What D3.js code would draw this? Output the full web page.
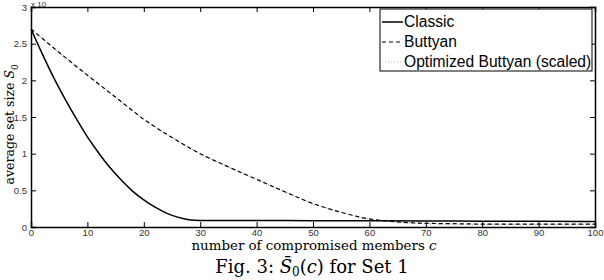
<!DOCTYPE html>
<html>
<head>
<meta charset="utf-8">
<script src="https://cdn.jsdelivr.net/npm/d3@7"></script>
<style>
  body { margin: 0; background: #fff; }
  svg { display: block; }
</style>
</head>
<body>
<div id="chart"></div>
<script>
// data (values in units of 10^4)
const classicC = [0, 2, 4, 6, 8, 10, 12, 14, 16, 18, 20, 22, 24, 26, 28, 30, 40, 50, 60, 70, 80, 90, 100];
const classicS = [2.70, 2.36, 2.04, 1.75, 1.48, 1.23, 1.01, 0.81, 0.64, 0.49, 0.37, 0.27, 0.19, 0.135, 0.10, 0.09, 0.088, 0.086, 0.084, 0.082, 0.08, 0.078, 0.075];

const buttyanC = [0, 5, 10, 15, 20, 25, 30, 35, 40, 45, 50, 55, 60, 65, 70, 75, 80, 90, 100];
const buttyanS = [2.70, 2.38, 2.07, 1.77, 1.47, 1.22, 1.00, 0.82, 0.65, 0.48, 0.32, 0.20, 0.11, 0.07, 0.05, 0.045, 0.04, 0.04, 0.04];

const optimizedC = [0, 5, 10, 15, 20, 25, 30, 35, 40, 45, 50, 55, 60, 65, 70, 75, 80, 90, 100];
const optimizedS = [2.70, 2.38, 2.07, 1.77, 1.47, 1.22, 1.00, 0.82, 0.65, 0.48, 0.32, 0.20, 0.11, 0.065, 0.045, 0.04, 0.035, 0.035, 0.035];

const xTicks = [0, 10, 20, 30, 40, 50, 60, 70, 80, 90, 100];
const yTicks = [0, 0.5, 1, 1.5, 2, 2.5, 3];

const legendNames = ["Classic", "Buttyan", "Optimized Buttyan (scaled)"];

const W = 604, H = 280;
const svg = d3.select("#chart").append("svg")
    .attr("width", W).attr("height", H);

const x = d3.scaleLinear().domain([0, 100]).range([31, 595]);
const y = d3.scaleLinear().domain([0, 3]).range([227, 7]);

const tickFont = "'Liberation Sans', Arial, sans-serif";
const serif = "'DejaVu Serif', serif";

// bottom axis (ticks inward)
const gx = svg.append("g").attr("transform", `translate(0,${y(0)})`)
    .call(d3.axisBottom(x).tickValues(xTicks).tickSize(-5).tickPadding(2).tickFormat(d3.format("d")));
gx.selectAll("text").style("font-family", tickFont).style("font-size", "9.5px").attr("fill", "#333");

// top axis (ticks only)
svg.append("g").attr("transform", `translate(0,${y(3)})`)
    .call(d3.axisTop(x).tickValues(xTicks).tickSize(-5).tickFormat(""));

// left axis
const gy = svg.append("g").attr("transform", `translate(${x(0)},0)`)
    .call(d3.axisLeft(y).tickValues(yTicks).tickSize(-5).tickPadding(4).tickFormat(d => d));
gy.selectAll("text").style("font-family", tickFont).style("font-size", "9.5px").attr("fill", "#333");

// right axis (ticks only)
svg.append("g").attr("transform", `translate(${x(100)},0)`)
    .call(d3.axisRight(y).tickValues(yTicks).tickSize(-5).tickFormat(""));

svg.selectAll(".domain").attr("stroke", "#000").attr("stroke-width", 1.5);
svg.selectAll(".tick line").attr("stroke", "#000");

// exponent label
svg.append("text").attr("x", 31).attr("y", 7)
    .style("font-family", tickFont).style("font-size", "8px").attr("fill", "#333")
    .text("x 10");

const line = d3.line().x(d => x(d[0])).y(d => y(d[1])).curve(d3.curveMonotoneX);

const series = [
  { c: optimizedC, s: optimizedS, stroke: "#888", width: 1, dash: "1,2" },
  { c: buttyanC, s: buttyanS, stroke: "#000", width: 1.2, dash: "4,3" },
  { c: classicC, s: classicS, stroke: "#000", width: 1.5, dash: null }
];

series.forEach(d => {
  svg.append("path")
    .datum(d.c.map((c, i) => [c, d.s[i]]))
    .attr("d", line)
    .attr("fill", "none")
    .attr("stroke", d.stroke)
    .attr("stroke-width", d.width)
    .attr("stroke-dasharray", d.dash);
});

// legend
const lg = svg.append("g");
lg.append("rect").attr("x", 380).attr("y", 9).attr("width", 212).attr("height", 62)
  .attr("fill", "#fff").attr("stroke", "#000").attr("stroke-width", 1);
const legStyles = [series[2], series[1], series[0]];
legendNames.forEach((name, i) => {
  const yy = 22 + i * 20;
  lg.append("line").attr("x1", 382).attr("x2", 403).attr("y1", yy).attr("y2", yy)
    .attr("stroke", i === 2 ? "#bbb" : legStyles[i].stroke)
    .attr("stroke-width", legStyles[i].width)
    .attr("stroke-dasharray", legStyles[i].dash);
  lg.append("text").attr("x", 404).attr("y", yy + 5)
    .style("font-family", tickFont).style("font-size", "15.6px")
    .text(name);
});

// axis labels
const yl = svg.append("text")
  .attr("transform", `translate(14,${y(1.4)}) rotate(-90)`)
  .attr("text-anchor", "middle")
  .style("font-family", serif).style("font-size", "12.5px");
yl.append("tspan").text("average set size ");
yl.append("tspan").style("font-style", "italic").text("S");
yl.append("tspan").attr("dy", 4).style("font-size", "9px").text("0");

const xl = svg.append("text")
  .attr("x", 314).attr("y", 250)
  .attr("text-anchor", "middle")
  .style("font-family", serif).style("font-size", "13.4px");
xl.append("tspan").text("number of compromised members ");
xl.append("tspan").style("font-style", "italic").text("c");

// caption
const cap = svg.append("text")
  .attr("x", 312).attr("y", 273)
  .attr("text-anchor", "middle")
  .style("font-family", serif).style("font-size", "18px");
cap.append("tspan").text("Fig. 3: ");
cap.append("tspan").style("font-style", "italic").text("S\u0304");
cap.append("tspan").attr("dy", 3).style("font-size", "12px").text("0");
cap.append("tspan").attr("dy", -3).text("(");
cap.append("tspan").style("font-style", "italic").text("c");
cap.append("tspan").text(") for Set 1");
</script>
</body>
</html>
